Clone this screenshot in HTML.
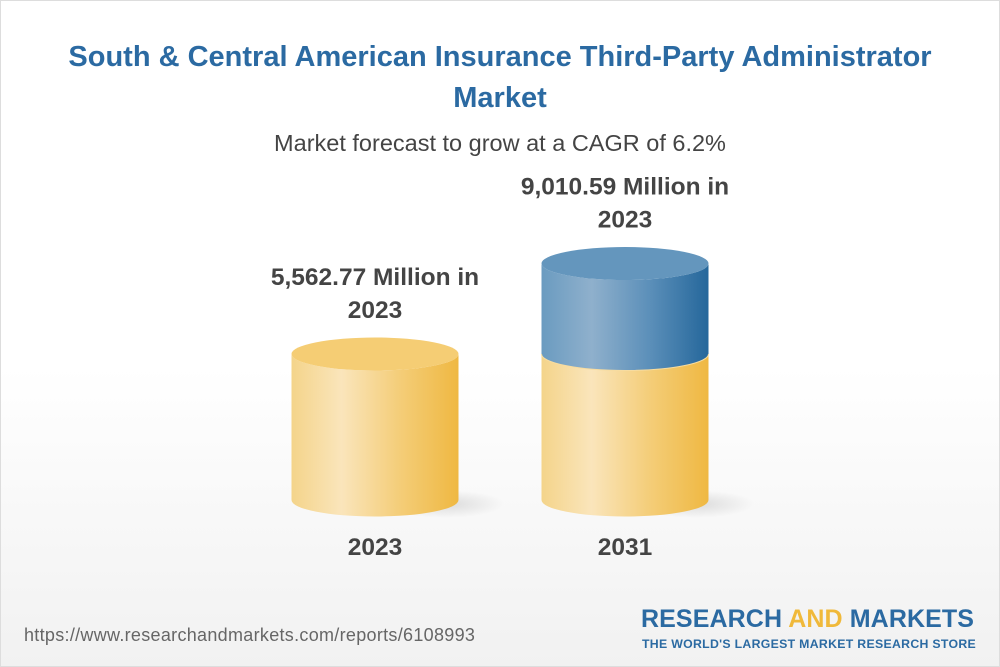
<!DOCTYPE html>
<html><head><meta charset="utf-8"><style>
body{margin:0;width:1000px;height:667px;overflow:hidden;font-family:"Liberation Sans",Arial,sans-serif;background:linear-gradient(#fff 0%,#fff 55%,#f1f1f1 100%);position:relative}
.frame{position:absolute;left:0;top:0;width:998px;height:665px;border:1px solid #ddd}
.title{position:absolute;left:0;width:1000px;text-align:center;top:37px;font-size:29px;font-weight:bold;color:#2b6aa2;line-height:41px}
.sub{position:absolute;left:0;width:1000px;text-align:center;top:130px;font-size:23.5px;color:#444}
.url{position:absolute;left:24px;top:625px;font-size:18px;color:#666;letter-spacing:0.3px}
.logo1{position:absolute;left:641px;top:605px;font-size:25px;font-weight:bold;color:#2b6aa2;letter-spacing:0.1px}
.logo2{position:absolute;left:642px;top:637px;font-size:12.3px;font-weight:bold;color:#2b6aa2;letter-spacing:0.3px}
</style></head><body>
<div class="frame"></div>
<div class="title">South &amp; Central American Insurance Third-Party Administrator<br>Market</div>
<div class="sub">Market forecast to grow at a CAGR of 6.2%</div>
<svg id="chart" width="1000" height="667" style="position:absolute;left:0;top:0">
<defs>
<linearGradient id="gy" x1="0" x2="1"><stop offset="0" stop-color="#f4d48a"/><stop offset="0.3" stop-color="#fae5bb"/><stop offset="0.65" stop-color="#f4cd78"/><stop offset="1" stop-color="#efb842"/></linearGradient>
<linearGradient id="gb" x1="0" x2="1"><stop offset="0" stop-color="#6a9bc0"/><stop offset="0.3" stop-color="#8fb0cc"/><stop offset="0.65" stop-color="#5b8fb9"/><stop offset="1" stop-color="#25679b"/></linearGradient>
<radialGradient id="sh"><stop offset="0" stop-color="#000" stop-opacity="0.12"/><stop offset="1" stop-color="#000" stop-opacity="0"/></radialGradient>
</defs>
</svg>
<div class="url">https://www.researchandmarkets.com/reports/6108993</div>
<div class="logo1">RESEARCH <span style="color:#f0b93a">AND</span> MARKETS</div>
<div class="logo2">THE WORLD'S LARGEST MARKET RESEARCH STORE</div>
<script>
const categories=["2023","2031"];
const values=[5562.77,9010.59];
const labels=["5,562.77 Million in","9,010.59 Million in"];
const labelYear=["2023","2023"];
const NS="http://www.w3.org/2000/svg";
const svg=document.getElementById('chart');
const base=500, scale=146/5562.77, rx=83.5, ry=16.5;
const cx=i=>375+i*250;
const yv=v=>base-v*scale;
function mk(t,a){const e=document.createElementNS(NS,t);for(const k in a)e.setAttribute(k,a[k]);svg.appendChild(e);return e;}
function seg(x,yTop,yBot,fill,name){
  const p=mk('path',{d:`M${x-rx},${yTop} L${x-rx},${yBot} A${rx},${ry} 0 0 0 ${x+rx},${yBot} L${x+rx},${yTop} A${rx},${ry} 0 0 1 ${x-rx},${yTop}Z`,fill:fill});
  
  
}
categories.forEach((c,i)=>{
  const x=cx(i);
  const sh=mk('ellipse',{cx:x+70,cy:base+4,rx:60,ry:14,fill:'url(#sh)'});
  
  
  const yBase=yv(values[0]);
  seg(x,yBase,base,'url(#gy)','cylinder-base-'+c);
  let top=yBase, topFill='#f5cd74';
  if(i>0){const yt=yv(values[i]);seg(x,yt,yBase,'url(#gb)','cylinder-growth-'+c);
    const b=mk('path',{d:`M${x-rx},${yBase} A${rx},${ry} 0 0 0 ${x+rx},${yBase}`,fill:'none',stroke:'#f7dca0','stroke-width':1});
    
    
    top=yt;topFill='#6496bd';}
  const e=mk('ellipse',{cx:x,cy:top,rx:rx,ry:ry,fill:topFill});
  
  
  const t1=mk('text',{x:x,y:top-69,'text-anchor':'middle','font-size':24.5,'font-weight':'bold',fill:'#444','font-family':'Liberation Sans, sans-serif'});
  t1.textContent=labels[i];
  
  
  const t2=mk('text',{x:x,y:top-36,'text-anchor':'middle','font-size':24.5,'font-weight':'bold',fill:'#444','font-family':'Liberation Sans, sans-serif'});
  t2.textContent=labelYear[i];
  
  
  const xl=mk('text',{x:x,y:555,'text-anchor':'middle','font-size':24.5,'font-weight':'bold',fill:'#444','font-family':'Liberation Sans, sans-serif'});
  xl.textContent=c;
  
  
});
</script>
</body></html>
